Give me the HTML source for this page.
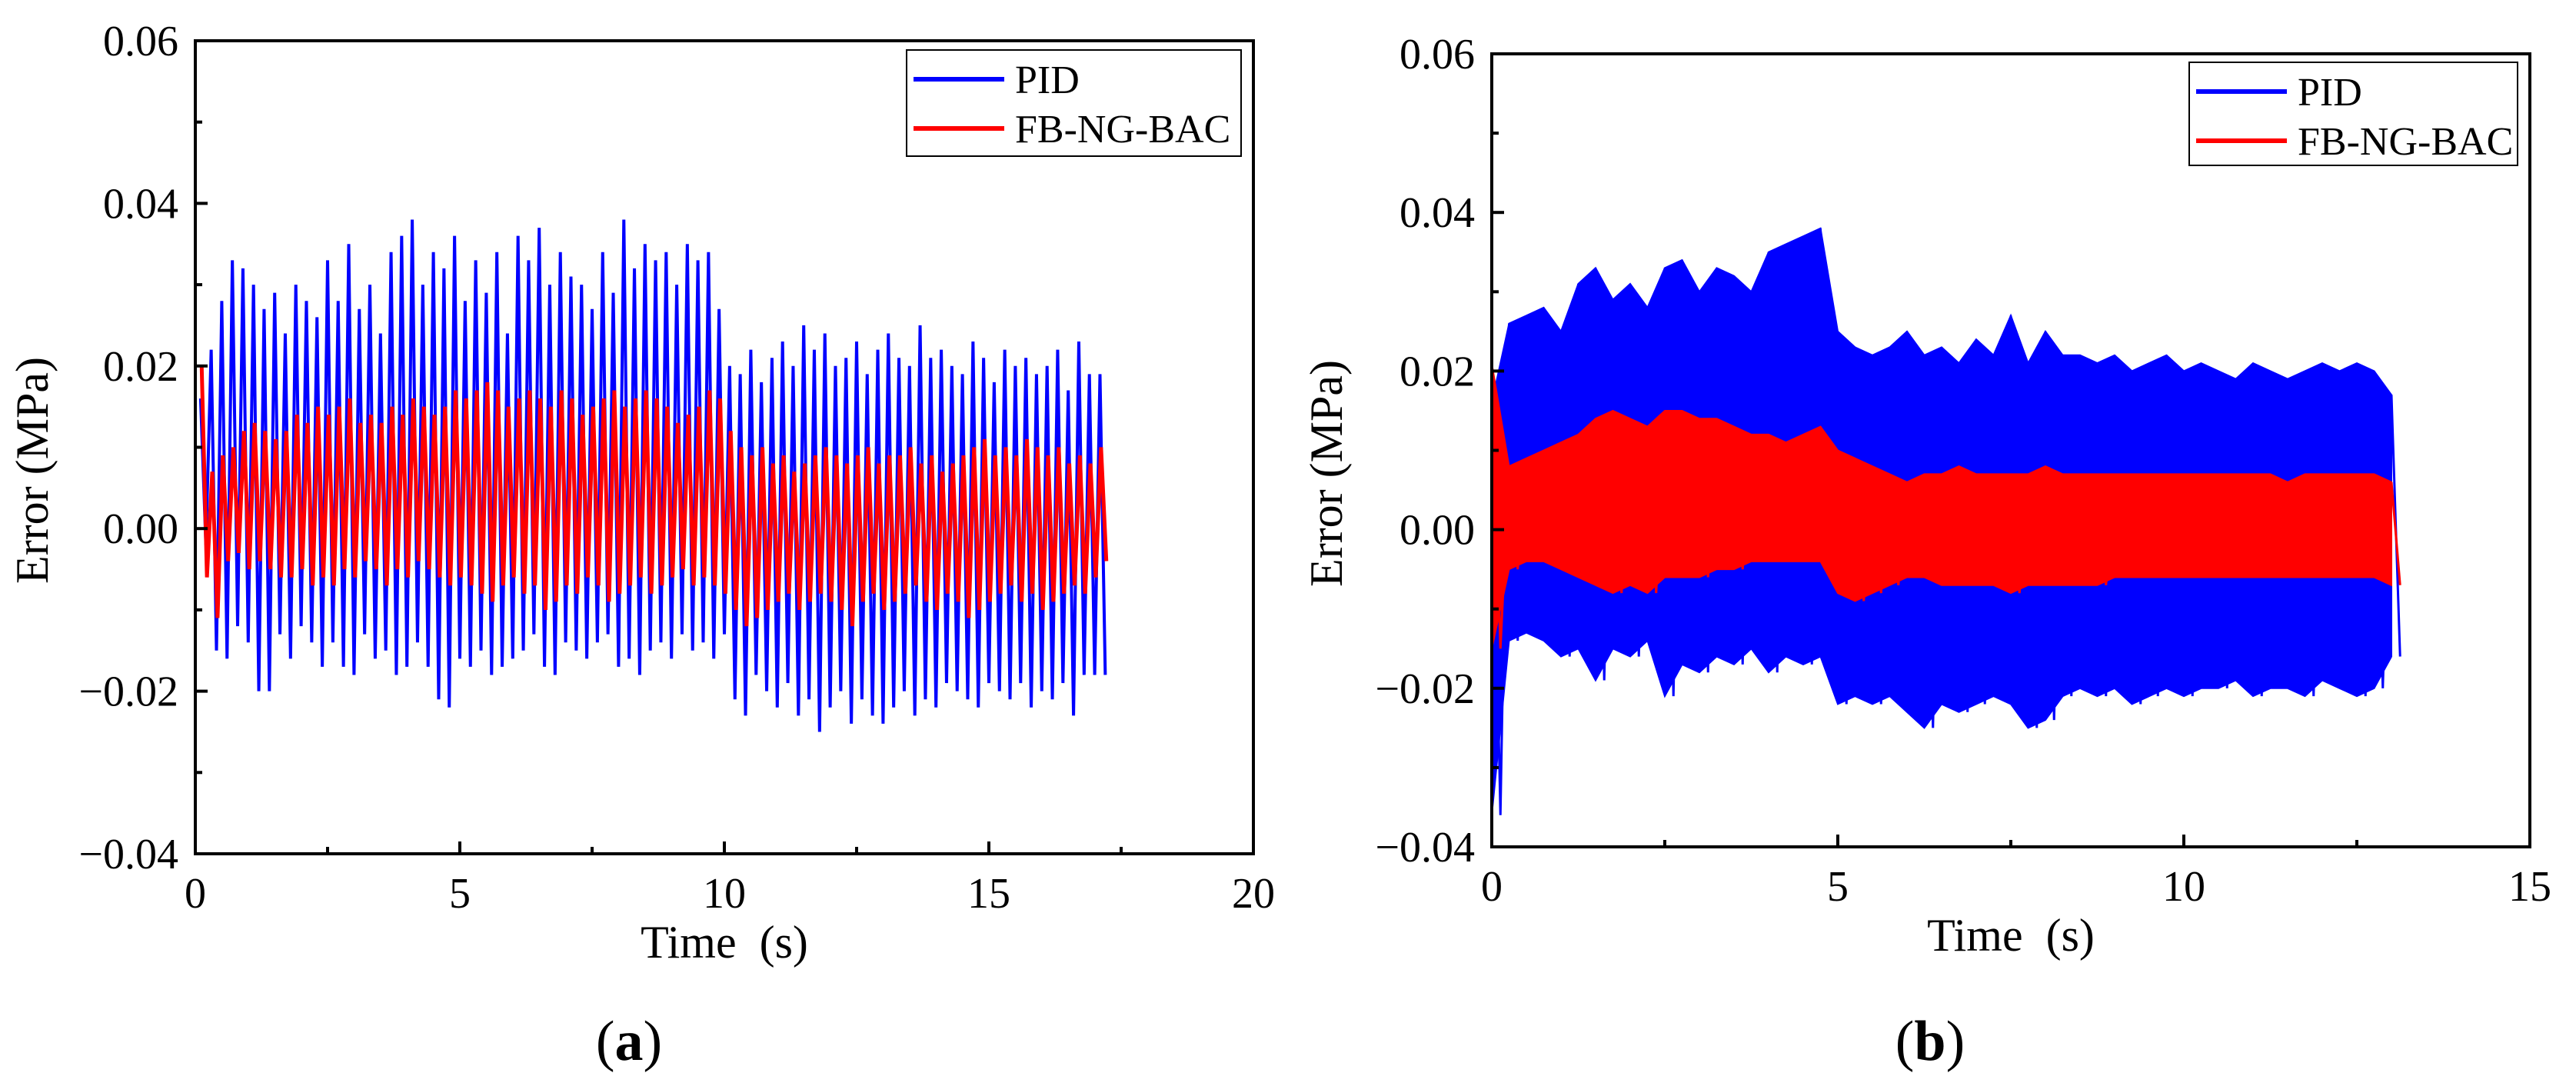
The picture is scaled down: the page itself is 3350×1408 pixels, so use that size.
<!DOCTYPE html>
<html><head><meta charset="utf-8"><style>
html,body{margin:0;padding:0;background:#fff;}
svg{display:block;font-family:"Liberation Serif",serif;}
.pre{white-space:pre;}
</style></head><body>
<svg id="fig" width="3350" height="1408" viewBox="0 0 3350 1408" xmlns="http://www.w3.org/2000/svg"></svg>
<script>
// ---- Data (values in 0.001 MPa) ----
// Panel (a): peak sequences, each cycle 0.2 s starting at t=0.1
const aPidUpper = [16,22,28,33,32,30,27,29,24,30,28,26,33,28,35,27,30,24,34,36,38,30,34,32,36,28,33,29,34,24,36,33,37,30,34,31,30,27,34,29,38,32,35,33,34,30,35,33,34,27,
 20,19,22,18,21,23,20,25,22,24,20,21,23,19,22,24,21,20,25,21,22,20,19,23,21,18,22,20,21,19,20,22,17,23,19,19];
const aPidLower = [-2,-15,-16,-12,-14,-20,-20,-13,-16,-12,-14,-17,-14,-17,-18,-13,-16,-15,-18,-17,-14,-17,-21,-22,-16,-17,-15,-18,-17,-16,-15,-13,-17,-18,-14,-15,-16,-14,-13,-17,-16,-18,-15,-14,-16,-13,-15,-14,-16,-13,
 -21,-23,-18,-20,-22,-19,-23,-21,-25,-22,-20,-24,-21,-23,-24,-22,-20,-23,-21,-22,-19,-20,-21,-22,-19,-20,-21,-19,-22,-20,-21,-19,-23,-18,-18,-18];
const aBacUpper = [20,7,9,10,12,13,12,11,12,14,13,15,14,15,16,13,14,13,15,14,16,15,14,15,17,16,17,18,17,15,16,17,16,15,17,16,14,15,16,17,15,16,17,16,15,13,14,15,17,16,
 12,10,9,10,8,9,7,8,9,10,9,8,9,10,8,9,9,10,8,9,7,8,9,10,11,9,10,9,11,10,9,10,8,9,8,10];
const aBacLower = [-6,-11,-4,-3,-5,-4,-5,-6,-6,-5,-7,-6,-7,-5,-6,-4,-5,-7,-5,-6,-4,-5,-6,-7,-6,-7,-8,-9,-7,-6,-8,-7,-10,-9,-7,-8,-6,-7,-9,-8,-7,-6,-8,-7,-6,-5,-7,-6,-7,-8,
 -10,-12,-11,-10,-9,-8,-10,-9,-8,-9,-10,-12,-9,-8,-10,-9,-8,-7,-9,-10,-8,-9,-11,-10,-9,-8,-7,-9,-8,-10,-9,-8,-7,-8,-6,-4];
// Panel (b): envelopes sampled every 0.25 s from t=0
const bPidUpper = [16,26,27,28,25,31,33,29,31,28,33,34,30,33,32,30,35,36,37,38,25,23,22,23,25,22,23,21,24,22,27,21,25,22,22,21,22,20,21,22,20,21,20,19,21,20,19,20,21,20,21,20,17];
const bPidLower = [-36,-14,-13,-14,-16,-15,-19,-15,-16,-14,-21,-17,-18,-16,-17,-15,-18,-16,-17,-16,-22,-21,-22,-21,-23,-25,-22,-23,-22,-21,-22,-25,-24,-21,-20,-21,-20,-22,-21,-20,-21,-20,-20,-19,-21,-20,-20,-21,-19,-20,-21,-20,-16];
const bBacUpper = [21,8,9,10,11,12,14,15,14,13,15,15,14,14,13,12,12,11,12,13,10,9,8,7,6,7,7,8,7,7,7,7,8,7,7,7,7,7,7,7,7,7,7,7,7,7,6,7,7,7,7,7,6];
const bBacLower = [-15,-5,-4,-4,-5,-6,-7,-8,-7,-8,-6,-6,-6,-5,-5,-4,-4,-4,-4,-4,-8,-9,-8,-7,-6,-6,-7,-7,-7,-7,-8,-7,-7,-7,-7,-7,-6,-6,-6,-6,-6,-6,-6,-6,-6,-6,-6,-6,-6,-6,-6,-6,-7];
const yTicks = ["0.06","0.04","0.02","0.00","\u22120.02","\u22120.04"];
const yTickVals = [0.06,0.04,0.02,0,-0.02,-0.04];
const aXTicks = [0,5,10,15,20];
const bXTicks = [0,5,10,15];

const NS="http://www.w3.org/2000/svg";
const svg=document.getElementById('fig');
function mk(tag,attrs,parent){const e=document.createElementNS(NS,tag);for(const k in attrs)e.setAttribute(k,attrs[k]);(parent||svg).appendChild(e);return e;}

function panel(cfg){
  const g=mk('g',{});
  
  
  const X=t=>cfg.x0+(t-cfg.xmin)/(cfg.xmax-cfg.xmin)*(cfg.x1-cfg.x0);
  const Y=v=>cfg.y1+(v-(-0.04))/(0.10)*(cfg.y0-cfg.y1);
  const plot=mk('g',{},g);
  
  
  cfg.draw(plot,X,Y);
  const fr=mk('rect',{x:cfg.x0,y:cfg.y0,width:cfg.x1-cfg.x0,height:cfg.y1-cfg.y0,fill:'none',stroke:'#000','stroke-width':4},g);
  
  
  yTickVals.forEach((v,i)=>{
    const y=Y(v);
    mk('line',{x1:cfg.x0,x2:cfg.x0+16,y1:y,y2:y,stroke:'#000','stroke-width':4},g);
    if(i<yTickVals.length-1){const ym=Y(v-0.01);mk('line',{x1:cfg.x0,x2:cfg.x0+9,y1:ym,y2:ym,stroke:'#000','stroke-width':4},g);}
    const t=mk('text',{x:cfg.x0-22,y:y+19,'font-size':56,'text-anchor':'end'},g);
    t.textContent=yTicks[i];
    
    
  });
  cfg.xTicks.forEach((v,i)=>{
    const x=X(v);
    mk('line',{x1:x,x2:x,y1:cfg.y1,y2:cfg.y1-16,stroke:'#000','stroke-width':4},g);
    if(i<cfg.xTicks.length-1){const xm=X(v+2.5);mk('line',{x1:xm,x2:xm,y1:cfg.y1,y2:cfg.y1-9,stroke:'#000','stroke-width':4},g);}
    const t=mk('text',{x:x,y:cfg.y1+70,'font-size':56,'text-anchor':'middle'},g);
    t.textContent=String(v);
    
    
  });
  const xt=mk('text',{x:(cfg.x0+cfg.x1)/2,y:cfg.y1+135,'font-size':60,'text-anchor':'middle','class':'pre'},g);
  xt.textContent='Time  (s)';
  
  
  const yt=mk('text',{x:0,y:0,'font-size':60,'text-anchor':'middle',transform:`translate(${cfg.ytx},${(cfg.y0+cfg.y1)/2+30}) rotate(-90)`},g);
  yt.textContent='Error (MPa)';
  
  
  const lg=mk('g',{},g);
  
  
  const L=cfg.leg;
  mk('rect',{x:L.x,y:L.y,width:L.w,height:L.h,fill:'#fff',stroke:'#000','stroke-width':2},lg);
  [['PID','#0000ff',6,'legend-entry-pid'],['FB-NG-BAC','#ff0000',6,'legend-entry-fb-ng-bac']].forEach((e,i)=>{
    const row=mk('g',{},lg);
    
    
    const ry=L.y+38+i*64;
    mk('line',{x1:L.x+9,x2:L.x+127,y1:ry,y2:ry,stroke:e[1],'stroke-width':e[2]},row);
    const t=mk('text',{x:L.x+141,y:ry+18,'font-size':52},row);
    t.textContent=e[0];
  });
  const cap=mk('text',{x:cfg.capx,y:1378,'font-size':74,'text-anchor':'middle'},g);
  cap.innerHTML='(<tspan font-weight="bold">'+cfg.cap+'</tspan>)';
  
  
}

function zigzag(parent,X,Y,up,lo,t0,step,color,w,name){
  let pts=[];
  for(let i=0;i<up.length;i++){
    const t=t0+i*step;
    pts.push(X(t)+','+Y(up[i]/1000));
    pts.push(X(t+step/2)+','+Y(lo[i]/1000));
  }
  const p=mk('polyline',{points:pts.join(' '),fill:'none',stroke:color,'stroke-width':w,'stroke-linejoin':'miter'},parent);
  
  
}
function band(parent,X,Y,up,lo,step,color,name){
  let pts=[];
  for(let i=0;i<up.length;i++)pts.push(X(i*step)+','+Y(up[i]/1000));
  for(let i=lo.length-1;i>=0;i--)pts.push(X(i*step)+','+Y(lo[i]/1000));
  const p=mk('polygon',{points:pts.join(' '),fill:color,stroke:color,'stroke-width':2},parent);
  
  
  zigzag(parent,X,Y,up,lo,0,step,color,3,name+'-spikes');
}

panel({name:'panel-a',x0:254,x1:1630,y0:53,y1:1110,xmin:0,xmax:20,xTicks:aXTicks,ytx:62,
  leg:{x:1179,y:65,w:435,h:138},capx:818,cap:'a',
  draw:(g,X,Y)=>{
    zigzag(g,X,Y,aPidUpper,aPidLower,0.1,0.2,'#0000ff',4,'series-pid');
    zigzag(g,X,Y,aBacUpper,aBacLower,0.12,0.2,'#ff0000',5,'series-fb-ng-bac');
  }});
panel({name:'panel-b',x0:1940,x1:3290,y0:70,y1:1101,xmin:0,xmax:15,xTicks:bXTicks,ytx:1745,
  leg:{x:2847,y:81,w:427,h:134},capx:2510,cap:'b',
  draw:(g,X,Y)=>{
    band(g,X,Y,bPidUpper,bPidLower,0.25,'#0000ff','series-pid');
    band(g,X,Y,bBacUpper,bBacLower,0.25,'#ff0000','series-fb-ng-bac');
  }});
</script>
</body></html>
